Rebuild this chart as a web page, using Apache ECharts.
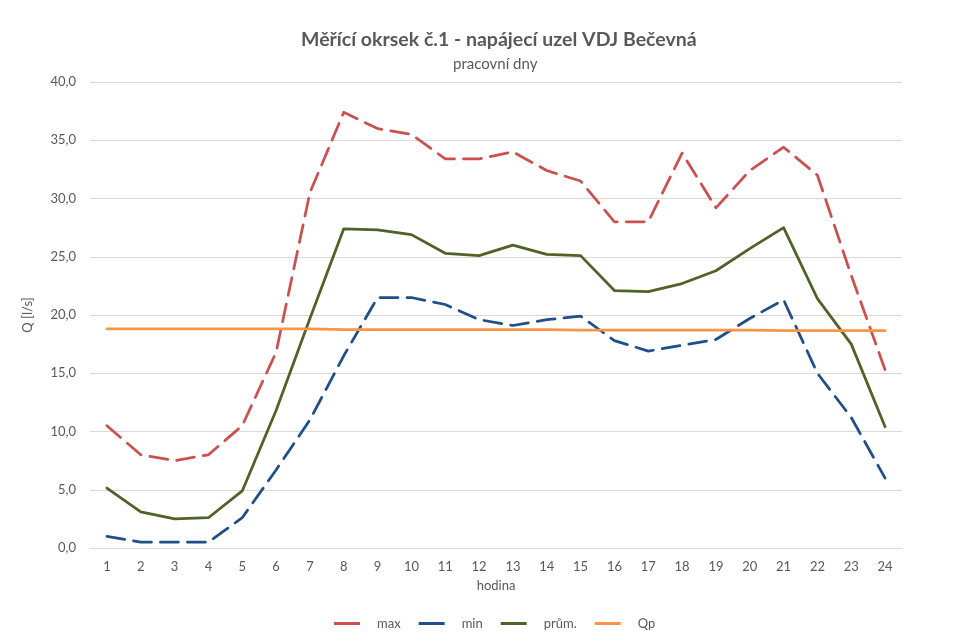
<!DOCTYPE html>
<html>
<head>
<meta charset="utf-8">
<script src="https://cdn.jsdelivr.net/npm/echarts@6/dist/echarts.min.js"></script>
<style>
  html, body { margin: 0; padding: 0; background: #fff; }
  #chart { width: 962px; height: 642px; }
</style>
</head>
<body>
<div id="chart"></div>
<script>
// hodiny 1..24
const hours = ['1','2','3','4','5','6','7','8','9','10','11','12','13','14','15','16','17','18','19','20','21','22','23','24']

// průtoky Q [l/s]
const maxValues = [10.5, 8.0, 7.5, 8.0, 10.5, 16.8, 30.5, 37.4, 36.0, 35.5, 33.4, 33.4, 34.0, 32.4, 31.5, 28.0, 28.0, 33.9, 29.2, 32.4, 34.4, 32.0, 23.4, 15.3]
const minValues = [1.0, 0.5, 0.5, 0.5, 2.6, 6.7, 11.0, 16.5, 21.5, 21.5, 20.9, 19.6, 19.1, 19.6, 19.9, 17.8, 16.9, 17.4, 17.9, 19.7, 21.3, 15.0, 11.2, 6.0]
const avgValues = [5.15, 3.1, 2.5, 2.6, 4.9, 11.8, 19.7, 27.4, 27.3, 26.9, 25.3, 25.1, 26.0, 25.2, 25.1, 22.1, 22.0, 22.7, 23.8, 25.7, 27.5, 21.4, 17.5, 10.4]
const qpValues = [18.8, 18.8, 18.8, 18.8, 18.8, 18.8, 18.8, 18.75, 18.75, 18.75, 18.75, 18.75, 18.75, 18.75, 18.7, 18.7, 18.7, 18.7, 18.7, 18.7, 18.65, 18.65, 18.65, 18.65]

const chart = echarts.init(document.getElementById('chart'))

const textColor = '#595959'
const font = 'Lato, "Open Sans", sans-serif'

const lineSeries = (name, data, color, dashed) => ({
  name: name,
  type: 'line',
  data: data,
  symbol: 'none',
  lineStyle: {
    color: color,
    width: 2.75,
    type: dashed ? [18, 9] : 'solid',
    cap: 'round',
    join: 'round'
  },
  itemStyle: { color: color }
})

chart.setOption({
  backgroundColor: '#fff',
  animation: false,
  title: [
    {
      text: 'Měřící okrsek č.1 - napájecí uzel VDJ Bečevná',
      left: 296,
      top: 25,
      textStyle: { fontSize: 19.5, fontWeight: 'bold', color: textColor, fontFamily: font }
    },
    {
      text: 'pracovní dny',
      left: 448,
      top: 52,
      textStyle: { fontSize: 15, fontWeight: 'normal', color: textColor, fontFamily: font }
    }
  ],
  legend: {
    bottom: 7,
    left: 329,
    itemWidth: 26,
    itemHeight: 3,
    itemGap: 18,
    icon: 'rect',
    textStyle: { fontSize: 13, color: textColor, fontFamily: font, padding: [0, 0, 0, 12] },
    data: ['max', 'min', 'prům.', 'Qp']
  },
  grid: { left: 90, right: 60, top: 82, bottom: 94 },
  xAxis: {
    type: 'category',
    data: hours,
    boundaryGap: true,
    name: 'hodina',
    nameLocation: 'middle',
    nameGap: 31,
    nameTextStyle: { fontSize: 13, color: textColor, fontFamily: font },
    axisLine: { lineStyle: { color: '#d9d9d9' } },
    axisTick: { show: false },
    axisLabel: { fontSize: 13, color: textColor, fontFamily: font, margin: 12 }
  },
  yAxis: {
    type: 'value',
    min: 0,
    max: 40,
    interval: 5,
    name: 'Q [l/s]',
    nameLocation: 'middle',
    nameGap: 56,
    nameRotate: 90,
    nameTextStyle: { fontSize: 13, color: textColor, fontFamily: font },
    axisLine: { show: false },
    axisTick: { show: false },
    axisLabel: {
      fontSize: 13,
      color: textColor,
      fontFamily: font,
      margin: 14,
      formatter: v => v.toFixed(1).replace('.', ',')
    },
    splitLine: { lineStyle: { color: '#d9d9d9', width: 1 } }
  },
  series: [
    lineSeries('max', maxValues, '#cd5050', true),
    lineSeries('min', minValues, '#1f4e8a', true),
    lineSeries('prům.', avgValues, '#4f6228', false),
    lineSeries('Qp', qpValues, '#f79646', false)
  ]
})
</script>
</body>
</html>
